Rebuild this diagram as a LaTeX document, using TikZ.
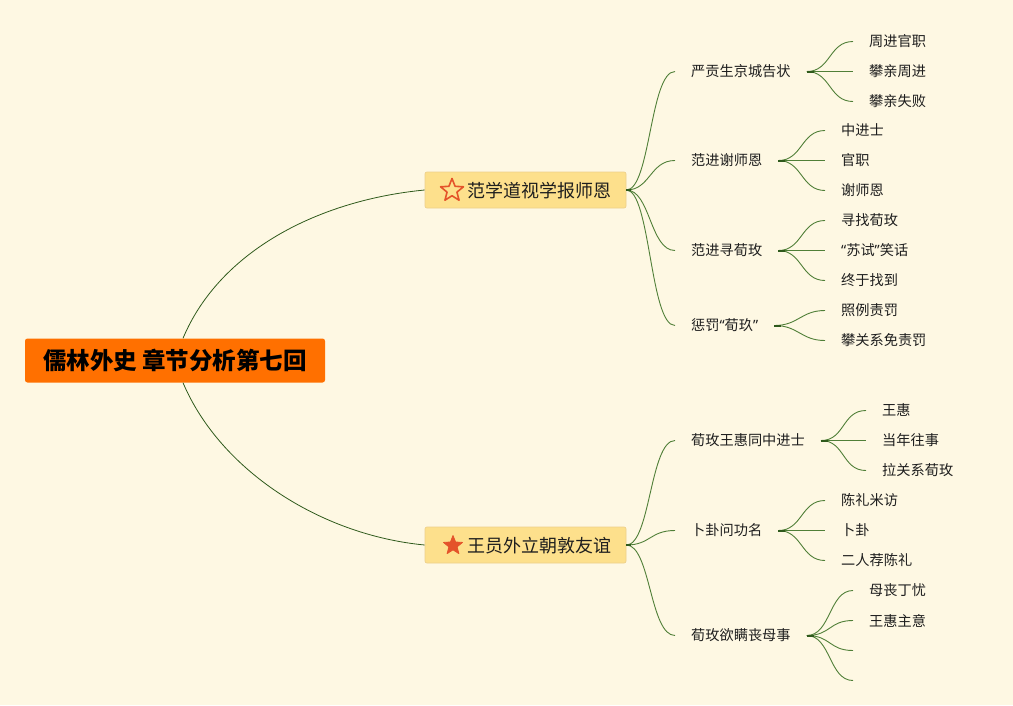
\documentclass[tikz,border=0pt]{standalone}
\usepackage{fontspec}
\setmainfont{Noto Sans CJK SC}
\newfontfamily\qf{Noto Sans}
\usetikzlibrary{shapes.geometric}
\definecolor{bg}{HTML}{FEF8E3}
\definecolor{rootc}{HTML}{FF7000}
\definecolor{boxc}{HTML}{FDE08C}
\definecolor{boxb}{HTML}{EED08A}
\definecolor{linec}{HTML}{2F5A1C}
\definecolor{leafl}{HTML}{507F38}
\definecolor{starc}{HTML}{E4532A}
\definecolor{txt}{HTML}{1E1E1E}
\begin{document}
\begin{tikzpicture}[x=1pt,y=-1pt,
  rootbox/.style={fill=rootc, rounded corners=2.5pt, minimum width=300pt, minimum height=44pt, inner sep=0pt, font=\fontsize{23.5}{27}\selectfont\bfseries, text=black},
  topic/.style={fill=boxc, draw=boxb, line width=0.7pt, rounded corners=2pt, minimum width=201pt, minimum height=36pt, inner sep=0pt},
  toptext/.style={anchor=west, inner sep=0pt, font=\fontsize{18}{21}\selectfont, text=txt},
  sub/.style={anchor=west, inner xsep=16pt, inner ysep=2pt, font=\fontsize{14.2}{16}\selectfont, text=txt},
  mainconn/.style={draw=linec, line width=0.8pt},
  conn/.style={draw=leafl, line width=0.9pt},
  stub/.style={draw=linec, line width=2pt},
  starshape/.style={star, star points=5, star point ratio=2.3, inner sep=0pt}
]
\fill[bg] (0,0) rectangle (1013,705);
\useasboundingbox (0,0) rectangle (1013,705);

% root and topics
\node[rootbox] (root) at (175,360.5) {儒林外史 章节分析第七回};
\node[topic] (t1) at (525.5,190) {};
\node[starshape, draw=starc, line width=1.6pt, line join=round, minimum size=24pt] (s1) at (452,190.5) {};
\node[toptext] (tt1) at (467,190.5) {范学道视学报师恩};
\node[topic] (t2) at (525.5,545) {};
\node[starshape, fill=starc, draw=starc, line width=0.8pt, line join=round, minimum size=20pt] (s2) at (453,545.5) {};
\node[toptext] (tt2) at (467,545.5) {王员外立朝敦友谊};

\draw[mainconn] ([xshift=8pt]root.north) .. controls (220,250) and (320,200) .. (t1.west);
\draw[mainconn] ([xshift=8pt]root.south) .. controls (220,470) and (320,535) .. (t2.west);

% level 2 (topic 1)
\node[sub] (c1) at (675,71.5) {严贡生京城告状};
\node[sub] (c2) at (675,160.5) {范进谢师恩};
\node[sub] (c3) at (675,250.5) {范进寻荀玫};
\node[sub] (c4) at (675,325.5) {惩罚{\qf “}荀玖{\qf ”}};
% level 2 (topic 2)
\node[sub] (c5) at (675,440.5) {荀玫王惠同中进士};
\node[sub] (c6) at (675,530.5) {卜卦问功名};
\node[sub] (c7) at (675,635.5) {荀玫欲瞒丧母事};

\foreach \c in {c1,c2,c3,c4}
  \draw[conn] (t1.east) .. controls +(24,0) and +(-25,0) .. (\c.west);
\foreach \c in {c5,c6,c7}
  \draw[conn] (t2.east) .. controls +(24,0) and +(-25,0) .. (\c.west);

% leaves
\node[sub] (l11) at (853,41.5) {周进官职};
\node[sub] (l12) at (853,71.5) {攀亲周进};
\node[sub] (l13) at (853,101.5) {攀亲失败};
\node[sub] (l21) at (825,130.5) {中进士};
\node[sub] (l22) at (825,160.5) {官职};
\node[sub] (l23) at (825,190.5) {谢师恩};
\node[sub] (l31) at (825,220.5) {寻找荀玫};
\node[sub] (l32) at (825,250.5) {{\qf “}苏试{\qf ”}笑话};
\node[sub] (l33) at (825,280.5) {终于找到};
\node[sub] (l41) at (825,310.5) {照例责罚};
\node[sub] (l42) at (825,340.5) {攀关系免责罚};
\node[sub] (l51) at (866,410.5) {王惠};
\node[sub] (l52) at (866,440.5) {当年往事};
\node[sub] (l53) at (866,470.5) {拉关系荀玫};
\node[sub] (l61) at (825,500.5) {陈礼米访};
\node[sub] (l62) at (825,530.5) {卜卦};
\node[sub] (l63) at (825,560.5) {二人荐陈礼};
\node[sub] (l71) at (853,590.5) {母丧丁忧};
\node[sub] (l72) at (853,620.5) {王惠主意};
\coordinate (l73) at (853,650.5);
\coordinate (l74) at (853,680.5);

\foreach \p/\l in {c1/l11,c1/l12,c1/l13,c2/l21,c2/l22,c2/l23,c3/l31,c3/l32,c3/l33,c4/l41,c4/l42,c5/l51,c5/l52,c5/l53,c6/l61,c6/l62,c6/l63,c7/l71,c7/l72}
  \draw[conn] (\p.east) .. controls +(24,0) and +(-24,0) .. (\l.west);
\foreach \l in {l73,l74}
  \draw[conn] (c7.east) .. controls +(24,0) and +(-24,0) .. (\l);

% thick stubs at fan origins
\foreach \c in {c1,c2,c3,c4,c5,c6,c7}
  \draw[stub] (\c.east) -- ++(7,0);
\draw[stub] (t1.east) -- ++(5,0);
\draw[stub] (t2.east) -- ++(5,0);
\end{tikzpicture}
\end{document}
